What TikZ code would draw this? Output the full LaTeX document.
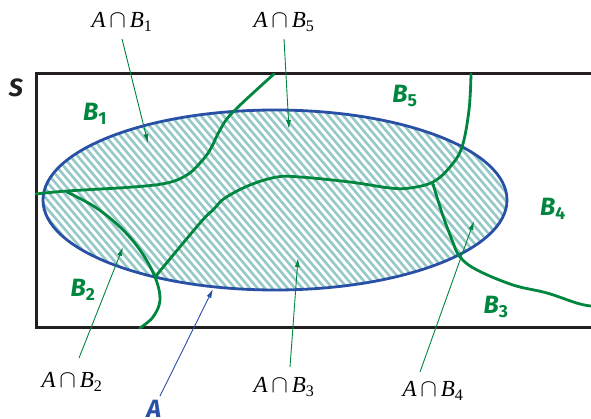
\documentclass[tikz,border=0pt]{standalone}
\usepackage{fontspec}
\setmainfont{Liberation Serif}
\newfontfamily\labfont{Fira Sans}
\usetikzlibrary{arrows.meta}
\definecolor{sgreen}{RGB}{0,134,62}
\definecolor{sblue}{RGB}{40,80,165}
\definecolor{hatchc}{RGB}{150,200,200}
\definecolor{framec}{RGB}{35,31,32}
\newcommand\AcapB[1]{\textit{A}\,$\cap$\,\textit{B}\textsubscript{#1}}
\newcommand\BB[1]{B\textsubscript{\upshape #1}}
\begin{document}
\begin{tikzpicture}[x=1pt,y=-1pt,
  region/.style={sgreen,line width=2.8pt,line cap=round},
  pointer/.style={sgreen,line width=0.9pt,-{Latex[length=9pt,width=5pt]}},
  apointer/.style={sblue,line width=0.9pt,-{Latex[length=9pt,width=5pt]}},
  blab/.style={text=sgreen,font=\labfont\fontsize{25}{27}\selectfont\bfseries\itshape,inner sep=0pt},
  mlab/.style={font=\fontsize{23}{26}\selectfont,inner sep=0pt},
]
\useasboundingbox (0,0) rectangle (591,419);
% sample space
\draw[framec,line width=3pt] (36,74) rectangle (640,327);
% hatching of A
\begin{scope}
  \clip (275,200) ellipse [x radius=232pt, y radius=90pt];
  \foreach \k in {-20,...,70}
    \draw[hatchc,line width=2.6pt] ({\k*7.5},100) -- ({\k*7.5+170},300);
\end{scope}
% event A
\draw[sblue,line width=2.8pt] (275,200) ellipse [x radius=232pt, y radius=90pt];
% partition boundaries
\draw[region] plot[smooth,tension=0.6] coordinates {(36,194) (67,191) (133,187) (167,183) (187,175) (200,163) (210,150) (220,130) (233,112) (274,74)};
\draw[region] plot[smooth,tension=0.6] coordinates {(471,74) (469,110) (462,147) (450,167) (433,182) (410,188) (390,188) (350,182) (300,177) (277,177) (250,185) (225,198) (213,210) (200,223) (155,277)};
\draw[region] plot[smooth,tension=0.6] coordinates {(67,192) (95,207) (120,227) (140,250) (155,277) (160,300) (153,317) (140,328)};
\draw[region] plot[smooth,tension=0.6] coordinates {(433,184) (442,213) (452,240) (460,257) (477,270) (513,285) (547,293) (580,304) (600,307)};
% labels
\node[font=\labfont\fontsize{25}{27}\selectfont\bfseries\itshape,text=framec,inner sep=0pt] (S) at (16,88) {S};
\node[blab] (b1) at (95,114) {\BB{1}};
\node[blab] (b5) at (405,96) {\BB{5}};
\node[blab] (b4) at (553,209) {\BB{4}};
\node[blab] (b2) at (83,290) {\BB{2}};
\node[blab] (b3) at (496,307) {\BB{3}};
\node[text=sblue,font=\labfont\fontsize{25}{27}\selectfont\bfseries\itshape,inner sep=0pt] (A) at (154,409) {A};
\node[mlab] (l1) at (122,22) {\AcapB{1}};
\node[mlab] (l5) at (284,22) {\AcapB{5}};
\node[mlab] (l2) at (72,382) {\AcapB{2}};
\node[mlab] (l3) at (284,387) {\AcapB{3}};
\node[mlab] (l4) at (433,391) {\AcapB{4}};
% pointer ends
\coordinate (s1) at (122,39);  \coordinate (t1) at (148,143);
\coordinate (s5) at (284,39);  \coordinate (t5) at (289,129);
\coordinate (s2) at (79,358);  \coordinate (t2) at (123,247);
\coordinate (s3) at (290,367); \coordinate (t3) at (298,258);
\coordinate (s4) at (420,372); \coordinate (t4) at (474,221);
\coordinate (sA) at (160,396); \coordinate (tA) at (213,289);
\draw[pointer] (s1) -- (t1);
\draw[pointer] (s5) -- (t5);
\draw[pointer] (s2) -- (t2);
\draw[pointer] (s3) -- (t3);
\draw[pointer] (s4) -- (t4);
\draw[apointer] (sA) -- (tA);
\end{tikzpicture}
\end{document}
